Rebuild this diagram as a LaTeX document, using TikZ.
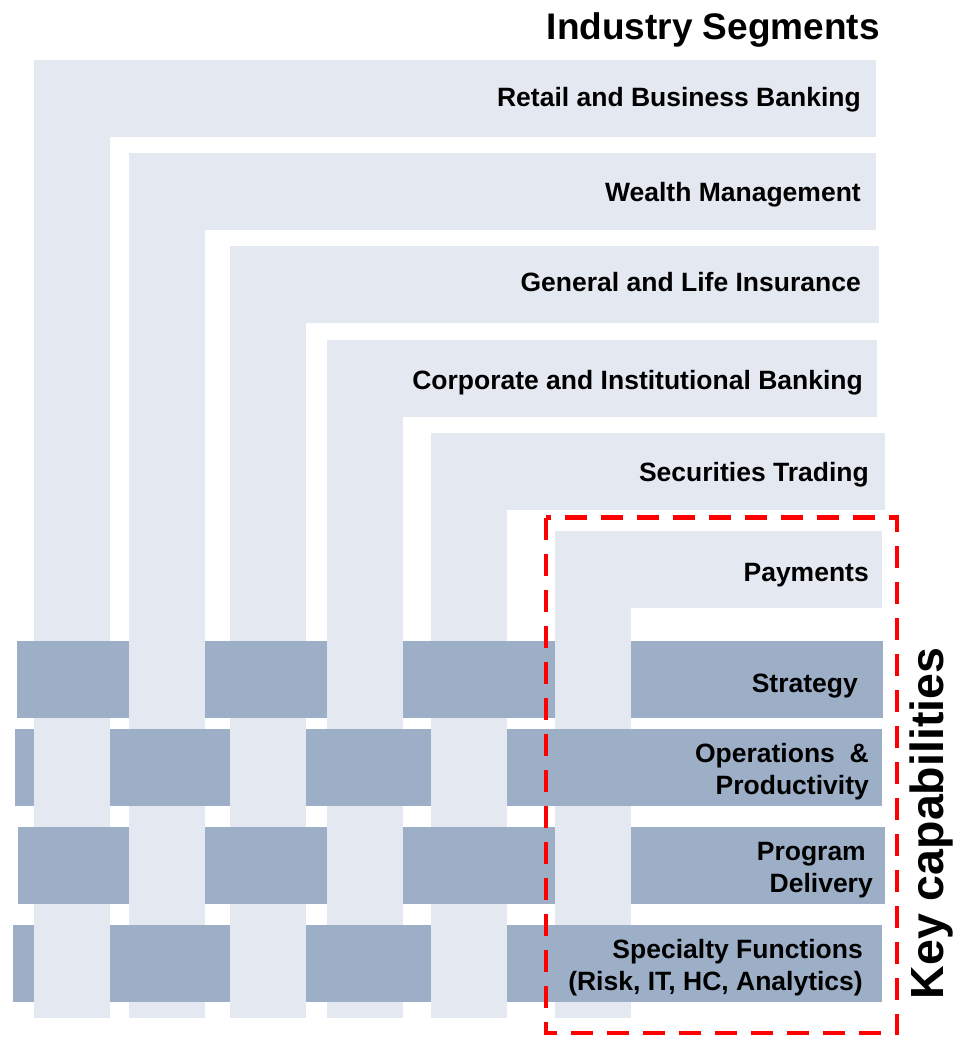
\documentclass[tikz,border=0pt]{standalone}
\usepackage{fontspec}
\setmainfont{Liberation Sans}
\definecolor{lightbar}{RGB}{228,233,241}
\definecolor{darkbar}{RGB}{156,175,199}
\definecolor{boxred}{RGB}{255,0,0}
\begin{document}
\begin{tikzpicture}[x=1pt,y=-1pt,
  lab/.style={font=\fontsize{26.5}{32}\selectfont\bfseries, inner sep=0pt, text=black, align=right},
  segfill/.style={fill=lightbar},
  capfill/.style={fill=darkbar},
  keybox/.style={draw=boxred, line width=4.5pt, dash pattern=on 22pt off 14pt}]
\useasboundingbox (0,0) rectangle (956,1037);
% industry segment L-shapes
\foreach \t/\r/\xl in {60/876/34, 153/876/129, 246/879/230, 340/877/327, 433/885/431, 531/882/555}{
  \fill[segfill] (\xl,\t) rectangle (\r,\t+76.5);
  \fill[segfill] (\xl,\t) rectangle (\xl+76,1017.5);
}
% capability rows
\foreach \t/\l/\r in {641/17/882.5, 729/15/882, 827/18/885, 925/13/882}{
  \fill[capfill] (\l,\t) rectangle (\r,\t+76.5);
}
% weave: columns passing over rows
\foreach \t in {641,827}{
  \foreach \xl in {129,327,555}{
    \fill[segfill] (\xl,\t) rectangle (\xl+76,\t+76.5);
  }
}
\foreach \t in {729,925}{
  \foreach \xl in {34,230,431}{
    \fill[segfill] (\xl,\t) rectangle (\xl+76,\t+76.5);
  }
}
% labels
\node[font=\fontsize{37}{44}\selectfont\bfseries, inner sep=0pt, anchor=base east] (title) at (880,39) {Industry Segments};
\node[lab, anchor=base east] (retail) at (861,106) {Retail and Business Banking};
\node[lab, anchor=base east] (wealth) at (861,201) {Wealth Management};
\node[lab, anchor=base east] (general) at (861,291) {General and Life Insurance};
\node[lab, anchor=base east] (corporate) at (863,389) {Corporate and Institutional Banking};
\node[lab, anchor=base east] (securities) at (869,481) {Securities Trading};
\node[lab, anchor=base east] (payments) at (869,581) {Payments};
\node[lab, anchor=base east] (strategy) at (858,692) {Strategy};
\node[lab, anchor=east] (operations) at (869,772) {Operations\ \ \&\\Productivity};
\node[lab, anchor=east] (program) at (873,870) {Program\hspace*{7pt}\\Delivery};
\node[lab, anchor=east] (specialty) at (863,968) {Specialty Functions\\(Risk, IT, HC, Analytics)};
\node[font=\fontsize{46.5}{52}\selectfont\bfseries, inner sep=0pt, rotate=90, anchor=base] (keycap) at (943,823.5) {Key capabilities};
% dashed frame
\draw[keybox] (546,517.5) rectangle (897,1033);
\end{tikzpicture}
\end{document}
